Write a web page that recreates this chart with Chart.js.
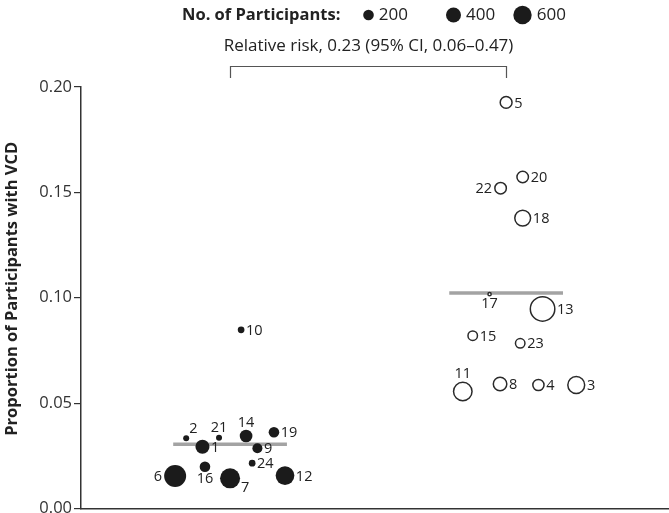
<!DOCTYPE html>
<html>
<head>
<meta charset="utf-8">
<script src="https://cdn.jsdelivr.net/npm/chart.js@4.4.1/dist/chart.umd.min.js"></script>
<style>
  html, body { margin: 0; padding: 0; background: #ffffff; }
  #wrap { width: 669px; height: 513px; position: relative; }
</style>
</head>
<body>
<div id="wrap"><canvas id="c" width="669" height="513"></canvas></div>
<script>
// Study arms: position of each group on the x axis
const groupCenters = [1, 2];

// Filled circles (left group)
const leftStudies = [10, 2, 21, 14, 19, 1, 9, 24, 16, 6, 7, 12];
const leftProportion = [0.0848, 0.0333, 0.0336, 0.0344, 0.0362, 0.0293, 0.0286, 0.0215, 0.0198, 0.0154, 0.0143, 0.0156];
const leftParticipants = [80, 64, 64, 286, 200, 350, 178, 80, 200, 860, 711, 620];
const leftJitter = [0.040, -0.159, -0.040, 0.058, 0.159, -0.100, 0.099, 0.080, -0.091, -0.199, 0.000, 0.199];

// Open circles (right group)
const rightStudies = [5, 20, 22, 18, 17, 13, 15, 23, 11, 8, 4, 3];
const rightProportion = [0.1927, 0.1573, 0.1520, 0.1378, 0.1017, 0.0947, 0.0820, 0.0784, 0.0555, 0.0591, 0.0586, 0.0586];
const rightParticipants = [316, 300, 300, 533, 39, 1200, 215, 215, 711, 400, 286, 600];
const rightJitter = [0.000, 0.060, -0.020, 0.060, -0.060, 0.132, -0.121, 0.051, -0.157, -0.022, 0.117, 0.254];

// Pooled proportions (grey bars)
const pooledMeans = [0.0305, 0.1022];
const pooledHalfWidth = 0.206;

// Legend sizes
const legendSizes = [200, 400, 600];
const yTicks = [0, 0.05, 0.10, 0.15, 0.20];

const bubbleScale = 0.375; // circle radius per sqrt(participant)
const radiusFor = n => bubbleScale * Math.sqrt(n);

const FONT = "'Open Sans', 'DejaVu Sans', sans-serif";
const INK = '#222222';

// Where each study number sits relative to its circle
const labelSide = {
  left: { 2: 'topright', 21: 'top', 14: 'top', 16: 'bottom', 6: 'left', 7: 'bottomright' },
  right: { 22: 'left', 17: 'bottom', 11: 'top' }
};

function points(jitter, props, center) {
  return props.map((p, i) => ({ x: center + jitter[i], y: p }));
}

const pooledSets = pooledMeans.map((m, g) => ({
  type: 'line',
  data: [
    { x: groupCenters[g] - pooledHalfWidth, y: m },
    { x: groupCenters[g] + pooledHalfWidth, y: m }
  ],
  borderColor: '#a3a3a3',
  borderWidth: 3.5,
  pointRadius: 0,
  fill: false,
  order: 3
}));

const leftSet = {
  type: 'scatter',
  data: points(leftJitter, leftProportion, groupCenters[0]),
  pointRadius: ctx => radiusFor(leftParticipants[ctx.dataIndex]),
  backgroundColor: '#1b1b1b',
  borderWidth: 0,
  order: 1,
  studyIds: leftStudies,
  labelGroup: 'left'
};

const rightSet = {
  type: 'scatter',
  data: points(rightJitter, rightProportion, groupCenters[1]),
  pointRadius: ctx => radiusFor(rightParticipants[ctx.dataIndex]) - 0.75,
  backgroundColor: '#ffffff',
  borderColor: '#2a2a2a',
  borderWidth: 1.5,
  order: 1,
  studyIds: rightStudies,
  labelGroup: 'right'
};

// Study-number labels next to each circle
const studyLabels = {
  id: 'studyLabels',
  afterDatasetsDraw(chart) {
    const ctx = chart.ctx;
    ctx.save();
    ctx.fillStyle = INK;
    ctx.font = `14.5px ${FONT}`;
    chart.data.datasets.forEach((ds, di) => {
      if (!ds.studyIds) return;
      const meta = chart.getDatasetMeta(di);
      meta.data.forEach((el, i) => {
        const id = ds.studyIds[i];
        const r = el.options.radius + (el.options.borderWidth || 0) / 2;
        const side = labelSide[ds.labelGroup][id] || 'right';
        let x = el.x, y = el.y;
        if (side === 'right') { ctx.textAlign = 'left'; ctx.textBaseline = 'middle'; x += r + 1.5; y += 1; }
        else if (side === 'left') { ctx.textAlign = 'right'; ctx.textBaseline = 'middle'; x -= r + 2; y += 1; }
        else if (side === 'top') { ctx.textAlign = 'center'; ctx.textBaseline = 'bottom'; y -= r; }
        else if (side === 'bottom') { ctx.textAlign = 'center'; ctx.textBaseline = 'top'; y += r; }
        else if (side === 'topright') { ctx.textAlign = 'left'; ctx.textBaseline = 'bottom'; x += r; y -= r - 1; }
        else if (side === 'bottomright') { ctx.textAlign = 'left'; ctx.textBaseline = 'middle'; x += r + 1; y += r; }
        ctx.fillText(String(id), x, y);
      });
    });
    ctx.restore();
  }
};

// Size legend, relative-risk note, comparison bracket and y-axis title
const header = {
  id: 'header',
  afterDraw(chart) {
    const ctx = chart.ctx;
    const xs = chart.scales.x;
    const ys = chart.scales.y;
    ctx.save();
    ctx.fillStyle = INK;
    ctx.textBaseline = 'middle';

    // legend
    ctx.font = `bold 16.5px ${FONT}`;
    ctx.textAlign = 'left';
    ctx.fillText('No. of Participants:', 182, 15);
    const legendX = [368.5, 453.5, 522.5];
    ctx.font = `17px ${FONT}`;
    legendSizes.forEach((n, i) => {
      const r = radiusFor(n);
      ctx.fillStyle = '#1b1b1b';
      ctx.beginPath();
      ctx.arc(legendX[i], 15, r, 0, Math.PI * 2);
      ctx.fill();
      ctx.fillStyle = INK;
      ctx.fillText(String(n), legendX[i] + r + 5, 15);
    });

    // bracket
    const xa = Math.round(xs.getPixelForValue(groupCenters[0])) + 0.5;
    const xb = Math.round(xs.getPixelForValue(groupCenters[1])) + 0.5;
    ctx.font = `17px ${FONT}`;
    ctx.textAlign = 'center';
    ctx.fillText('Relative risk, 0.23 (95% CI, 0.06\u20130.47)', (xa + xb) / 2, 46);
    ctx.strokeStyle = '#555555';
    ctx.lineWidth = 1.2;
    ctx.beginPath();
    ctx.moveTo(xa, 78);
    ctx.lineTo(xa, 66.5);
    ctx.lineTo(xb, 66.5);
    ctx.lineTo(xb, 78);
    ctx.stroke();

    // y-axis title
    ctx.translate(12, (ys.top + ys.bottom) / 2 - 9);
    ctx.rotate(-Math.PI / 2);
    ctx.font = `bold 16.5px ${FONT}`;
    ctx.fillText('Proportion of Participants with VCD', 0, 0);
    ctx.restore();
  }
};

new Chart(document.getElementById('c'), {
  data: { datasets: [...pooledSets, leftSet, rightSet] },
  options: {
    responsive: false,
    animation: false,
    events: [],
    layout: { autoPadding: false, padding: { top: 87, right: 0, bottom: 4.5, left: 0 } },
    plugins: { legend: { display: false }, tooltip: { enabled: false } },
    scales: {
      x: {
        type: 'linear',
        min: 0.46,
        max: 2.59,
        ticks: { display: false },
        grid: { display: false, drawTicks: false },
        border: { display: true, color: '#333333', width: 1.5 },
        afterFit: s => { s.height = 0; s.paddingLeft = 0; s.paddingRight = 0; }
      },
      y: {
        type: 'linear',
        min: 0,
        max: 0.2,
        afterBuildTicks: s => { s.ticks = yTicks.map(v => ({ value: v })); },
        ticks: {
          color: '#333333',
          font: { family: FONT, size: 16.5 },
          padding: 2,
          callback: v => v.toFixed(2)
        },
        grid: { display: true, drawOnChartArea: false, drawTicks: true, tickLength: 7, color: '#333333', lineWidth: 1.2 },
        border: { display: true, color: '#333333', width: 1.5 },
        title: { display: false },
        afterFit: s => { s.width = 81; s.paddingTop = 0; s.paddingBottom = 0; }
      }
    }
  },
  plugins: [studyLabels, header]
});
</script>
</body>
</html>
